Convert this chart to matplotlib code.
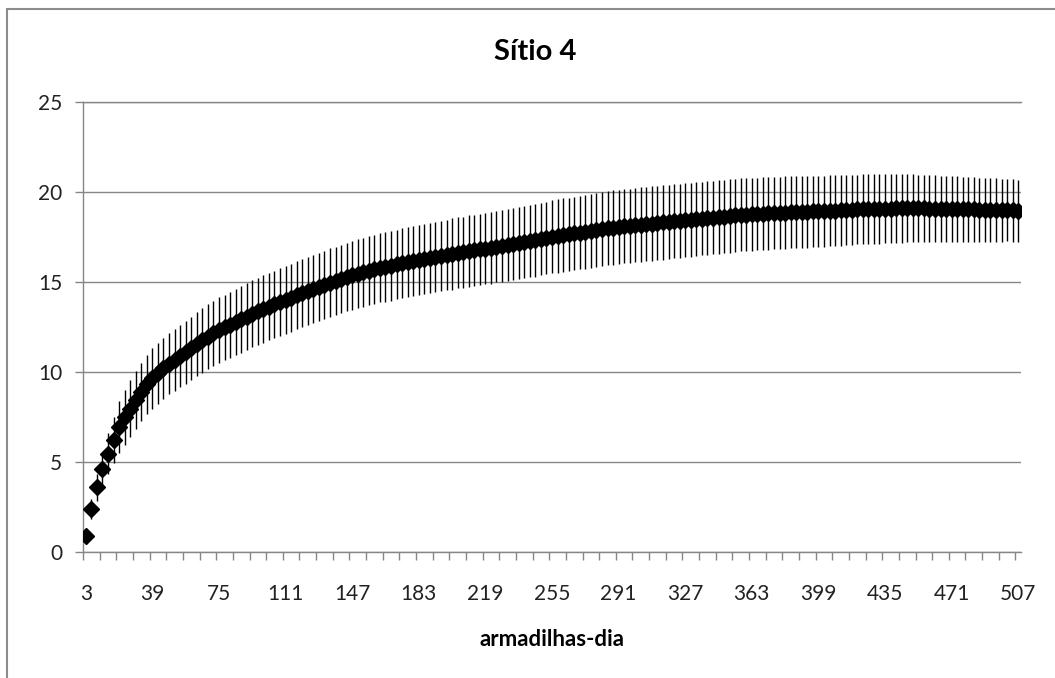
import matplotlib
matplotlib.use("Agg")
import matplotlib.pyplot as plt
import numpy as np
from matplotlib.patches import Rectangle

plt.rcParams['font.family'] = ['Lato', 'DejaVu Sans']

# armadilhas-dia (3 em 3)
dias = list(range(3, 508, 3))

# riqueza media estimada
riqueza = [
    0.90, 2.42, 3.62, 4.60, 5.48, 6.23, 6.95, 7.50, 7.97, 8.44,
    8.90, 9.32, 9.65, 9.93, 10.20, 10.46, 10.67, 10.88, 11.09, 11.33,
    11.54, 11.76, 11.96, 12.15, 12.33, 12.48, 12.63, 12.79, 12.92, 13.08,
    13.23, 13.36, 13.50, 13.63, 13.75, 13.89, 14.00, 14.13, 14.26, 14.39,
    14.51, 14.61, 14.72, 14.83, 14.96, 15.06, 15.16, 15.26, 15.37, 15.45,
    15.53, 15.62, 15.70, 15.78, 15.84, 15.90, 15.97, 16.03, 16.10, 16.16,
    16.22, 16.28, 16.33, 16.39, 16.44, 16.50, 16.55, 16.61, 16.66, 16.71,
    16.76, 16.80, 16.85, 16.90, 16.96, 17.01, 17.06, 17.11, 17.16, 17.22,
    17.27, 17.32, 17.38, 17.44, 17.50, 17.55, 17.60, 17.64, 17.69, 17.74,
    17.79, 17.84, 17.89, 17.93, 17.98, 18.02, 18.06, 18.09, 18.12, 18.15,
    18.18, 18.21, 18.24, 18.27, 18.30, 18.33, 18.36, 18.39, 18.42, 18.45,
    18.48, 18.51, 18.54, 18.57, 18.60, 18.63, 18.66, 18.69, 18.72, 18.74,
    18.76, 18.77, 18.79, 18.80, 18.82, 18.83, 18.85, 18.86, 18.87, 18.89,
    18.90, 18.91, 18.92, 18.93, 18.95, 18.96, 18.98, 18.99, 19.01, 19.02,
    19.04, 19.05, 19.06, 19.06, 19.07, 19.07, 19.08, 19.08, 19.09, 19.09,
    19.08, 19.08, 19.07, 19.07, 19.06, 19.05, 19.04, 19.04, 19.03, 19.02,
    19.02, 19.01, 19.00, 19.00, 18.99, 18.98, 18.98, 18.97, 18.96,
]

# desvio padrao
desvio = [
    0.15, 0.55, 0.75, 0.92, 1.12, 1.30, 1.42, 1.52, 1.57, 1.60,
    1.62, 1.65, 1.68, 1.70, 1.70, 1.70, 1.71, 1.72, 1.74, 1.75,
    1.77, 1.79, 1.80, 1.81, 1.82, 1.82, 1.83, 1.83, 1.84, 1.85,
    1.86, 1.86, 1.86, 1.87, 1.87, 1.87, 1.87, 1.88, 1.88, 1.88,
    1.88, 1.89, 1.89, 1.89, 1.90, 1.90, 1.90, 1.90, 1.91, 1.91,
    1.91, 1.92, 1.92, 1.92, 1.93, 1.93, 1.93, 1.94, 1.94, 1.94,
    1.95, 1.95, 1.95, 1.96, 1.96, 1.96, 1.97, 1.97, 1.97, 1.98,
    1.98, 1.98, 1.99, 1.99, 1.99, 2.00, 2.00, 2.00, 2.01, 2.01,
    2.01, 2.02, 2.02, 2.02, 2.03, 2.03, 2.03, 2.04, 2.04, 2.04,
    2.05, 2.05, 2.05, 2.06, 2.06, 2.06, 2.06, 2.06, 2.06, 2.06,
    2.06, 2.06, 2.06, 2.06, 2.06, 2.05, 2.05, 2.05, 2.05, 2.05,
    2.04, 2.04, 2.04, 2.04, 2.04, 2.03, 2.03, 2.03, 2.03, 2.02,
    2.02, 2.02, 2.01, 2.01, 2.01, 2.00, 2.00, 2.00, 1.99, 1.99,
    1.99, 1.98, 1.98, 1.97, 1.97, 1.96, 1.96, 1.95, 1.95, 1.94,
    1.94, 1.93, 1.93, 1.93, 1.92, 1.92, 1.91, 1.91, 1.90, 1.89,
    1.88, 1.87, 1.86, 1.85, 1.84, 1.83, 1.82, 1.81, 1.80, 1.79,
    1.78, 1.77, 1.77, 1.76, 1.75, 1.74, 1.73, 1.73, 1.72,
]

assert len(dias) == len(riqueza) == len(desvio)

titulo = "Sítio 4"
xlabel = "armadilhas-dia"
cinza = "#868686"

fig = plt.figure(figsize=(10.55, 6.78), dpi=100)
W, H = 1055.0, 678.0
ax = fig.add_axes([83 / W, 1 - 552.3 / H, 938 / W, 450.6 / H])

pos = np.arange(len(dias))
ax.errorbar(pos, riqueza, yerr=desvio, fmt='none', ecolor='black',
            elinewidth=1.0, capsize=0, zorder=3)
ax.plot(pos, riqueza, 'D', color='black', ms=8, zorder=4)

ax.set_xlim(-0.5, len(dias) - 0.5)
ax.set_ylim(0, 25)
ax.set_yticks(range(0, 26, 5))
ax.yaxis.grid(True, color=cinza, lw=1)
ax.set_axisbelow(True)

ax.set_xticks(pos[::12])
ax.set_xticklabels([str(d) for d in dias[::12]])
ax.set_xticks(np.arange(-0.5, len(dias), 3), minor=True)
ax.tick_params(axis='x', which='major', length=0, pad=23, labelsize=15, labelcolor='#222222')
ax.tick_params(axis='x', which='minor', length=5.5, width=1, color=cinza, direction='out')
ax.tick_params(axis='y', length=6, width=1, color=cinza, pad=9, labelsize=15, labelcolor='#222222')

ax.spines['right'].set_visible(False)
ax.spines['top'].set_color(cinza)
ax.spines['left'].set_color(cinza)
ax.spines['bottom'].set_color(cinza)
for s in ax.spines.values():
    s.set_linewidth(1)

fig.text(535 / W, 1 - 52 / H, titulo, fontsize=21, fontweight='bold', ha='center', va='center')
fig.text(552 / W, 1 - 640 / H, xlabel, fontsize=16, fontweight='bold', ha='center', va='center')

borda = Rectangle((7 / W, -0.1), 1.2, 1.1 - 9 / H, transform=fig.transFigure,
                  fill=False, ec='#8c8c8c', lw=1.5)
fig.patches.append(borda)

fig.savefig("out.png", dpi=100)
